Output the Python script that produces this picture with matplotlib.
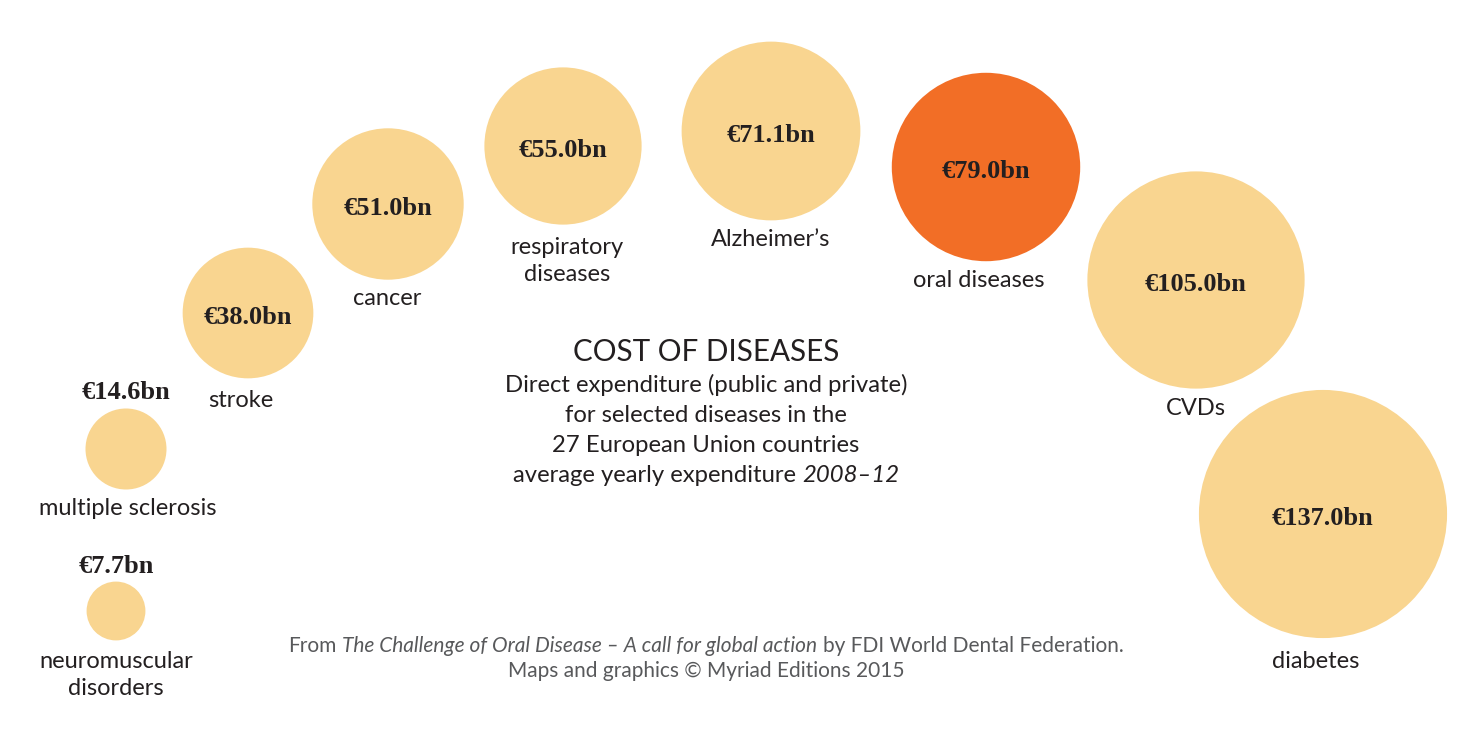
import numpy as np
import matplotlib.pyplot as plt
from matplotlib.patches import Circle

# Data: average yearly direct expenditure, EU27, 2008-12 (EUR bn)
diseases = ['neuromuscular\ndisorders', 'multiple sclerosis', 'stroke', 'cancer',
            'respiratory\ndiseases', 'Alzheimer\u2019s', 'oral diseases', 'CVDs', 'diabetes']
costs = [7.7, 14.6, 38.0, 51.0, 55.0, 71.1, 79.0, 105.0, 137.0]
highlight = 'oral diseases'

# Layout (pixel coordinates of bubble centres and label baselines)
cx = [116, 126, 248, 388, 563, 771, 986, 1196, 1323]
cy = [611, 449, 313, 204, 146, 131, 167, 280, 514]
label_x = [116, 128, 241, 387, 567, 771, 979, 1196, 1316]
label_base = [668, 515, 407, 305, 254, 246, 287, 415, 668]
value_above = [True, True, False, False, False, False, False, False, False]

K = 10.6  # pixels per sqrt(bn), area proportional to value

light = '#F9D590'
orange = '#F26E26'
dark = '#231F20'
grey = '#58595B'

fig = plt.figure(figsize=(14.81, 7.29), dpi=100)
ax = fig.add_axes([0, 0, 1, 1])
ax.set_xlim(0, 1481)
ax.set_ylim(729, 0)
ax.set_aspect('equal')
ax.axis('off')

label_font = 'Lato'
value_font = 'Liberation Serif'

for name, val, x, y, lx, lb, above in zip(diseases, costs, cx, cy, label_x,
                                          label_base, value_above):
    r = K * np.sqrt(val)
    col = orange if name == highlight else light
    ax.add_patch(Circle((x, y), r, color=col, lw=0))
    vtxt = f'\u20ac{val:.1f}bn'
    vy = y - r - 9 if above else y + 11
    ax.text(x, vy, vtxt, ha='center', va='baseline', fontsize=19,
            fontweight='bold', family=value_font, color=dark)
    for i, line in enumerate(name.split('\n')):
        ax.text(lx, lb + i * 27, line, ha='center', va='baseline', fontsize=17,
                family=label_font, color=dark)


def mixed_line(xc, yb, parts, **kw):
    """Draw a line made of (text, style) parts, centred on xc, baseline yb."""
    fig.canvas.draw()
    rend = fig.canvas.get_renderer()
    objs = []
    widths = []
    for s, st in parts:
        t = ax.text(0, yb, s, style=st, ha='left', va='baseline', **kw)
        objs.append(t)
        widths.append(t.get_window_extent(rend).width)
    probe = ax.text(0, 0, 'a a', **kw)
    probe2 = ax.text(0, 0, 'aa', **kw)
    sp = probe.get_window_extent(rend).width - probe2.get_window_extent(rend).width
    probe.remove()
    probe2.remove()
    total = sum(widths) + sp * (len(parts) - 1)
    x = xc - total / 2
    for t, w in zip(objs, widths):
        t.set_x(x)
        x += w + sp


# Title block
ax.text(706, 361, 'COST OF DISEASES', ha='center', va='baseline', fontsize=21.3,
        family=label_font, color=dark)
sub = ['Direct expenditure (public and private)',
       'for selected diseases in the',
       '27 European Union countries']
for i, line in enumerate(sub):
    ax.text(706, 392 + i * 30, line, ha='center', va='baseline', fontsize=17.2,
            family=label_font, color=dark)
mixed_line(706, 482, [('average yearly expenditure', 'normal'), ('2008\u201312', 'italic')],
           fontsize=17.2, family=label_font, color=dark)

# Source
mixed_line(706, 652, [('From', 'normal'),
                      ('The Challenge of Oral Disease \u2013 A call for global action', 'italic'),
                      ('by FDI World Dental Federation.', 'normal')],
           fontsize=15, family=label_font, color=grey)
ax.text(706, 677, 'Maps and graphics \u00a9 Myriad Editions 2015', ha='center',
        va='baseline', fontsize=15, family=label_font, color=grey)

fig.savefig('out.png', dpi=100, facecolor='white')
